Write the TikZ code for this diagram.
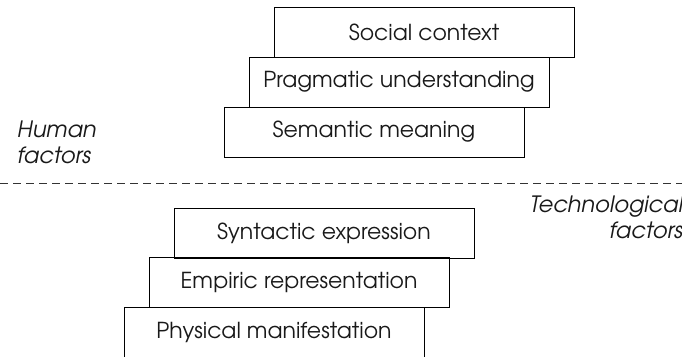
\documentclass[tikz,border=0pt]{standalone}
\usepackage{fontspec}
\setmainfont{TeX Gyre Adventor}
\begin{document}
\begin{tikzpicture}[x=1pt,y=-1pt,
  layer/.style={draw=black,line width=0.8pt,rectangle,minimum width=300pt,
    minimum height=50pt,inner sep=0pt,font=\fontsize{22}{26}\selectfont,text=black!90},
  side/.style={font=\fontsize{22.5}{26}\selectfont\itshape,text=black!90}]
  \useasboundingbox (0,0) rectangle (682,356);
  % upper stack: human factors
  \node[layer] (social) at (424,32.5) {Social context};
  \node[layer] (prag) at (399,82) {Pragmatic understanding};
  \node[layer] (sem) at (374,132) {Semantic meaning};
  % lower stack: technological factors
  \node[layer] (syn) at (324,233) {Syntactic expression};
  \node[layer] (emp) at (299,282.5) {Empiric representation};
  \node[layer] (phys) at (274,332.5) {Physical manifestation};
  % divider
  \coordinate (dl) at (0,183);
  \coordinate (dr) at (682,183);
  \draw[line width=0.7pt,dash pattern=on 8pt off 5pt,black!80] (dl) -- (dr);
  % side labels
  \node[side,align=left,anchor=north west,inner sep=0pt] (human) at (17,121) {Human\\factors};
  \node[side,align=right,anchor=north east,inner sep=0pt] (tech) at (683,196) {Technological\\factors};
\end{tikzpicture}
\end{document}
